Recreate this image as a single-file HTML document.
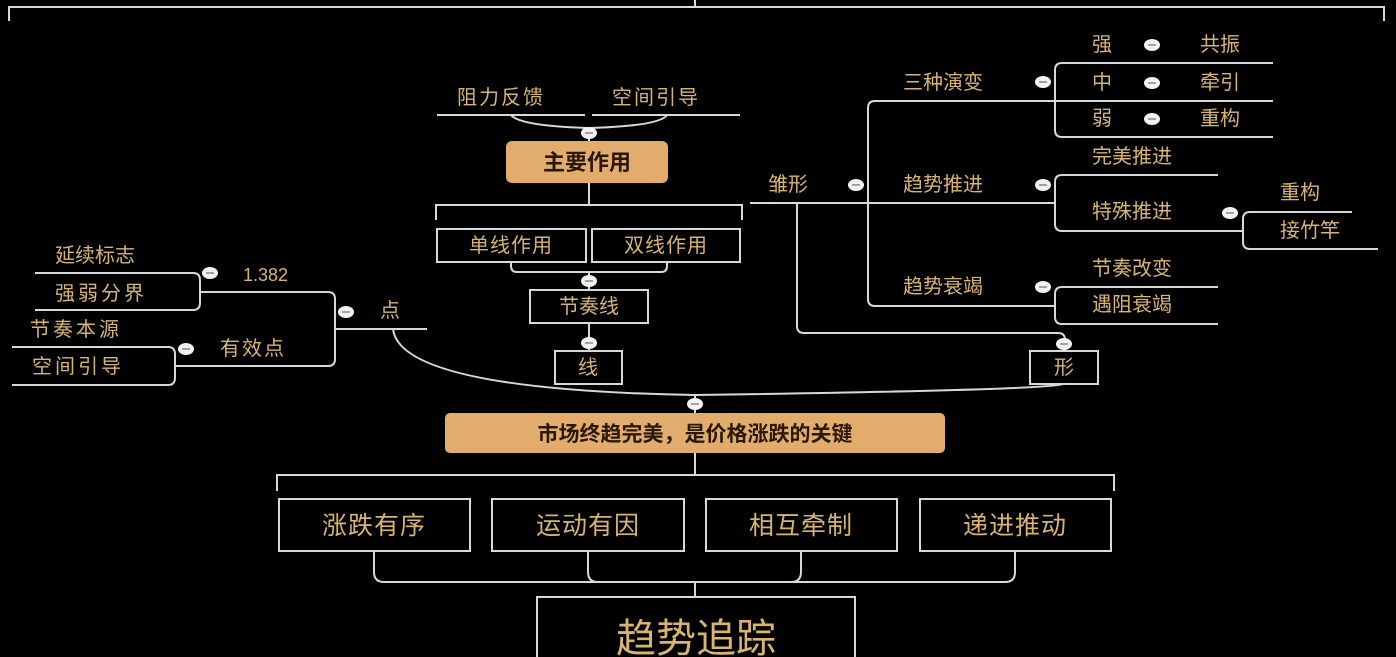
<!DOCTYPE html>
<html><head><meta charset="utf-8"><style>
html,body{margin:0;padding:0;background:#000;width:1396px;height:657px;overflow:hidden}
svg{display:block}
text{font-family:"Liberation Sans","Noto Sans CJK SC",sans-serif;fill:#d8b46f;font-size:20px}
.ln{stroke:#d8d8d8;stroke-width:2;fill:none}
.bx{stroke:#d8d8d8;stroke-width:2;fill:#000}
.dk{fill:#2a1808;font-weight:bold}
.s24{font-size:25px}
</style></head><body>
<svg width="1396" height="657" viewBox="0 0 1396 657">
<defs>
<g id="c"><ellipse cx="0" cy="0" rx="8" ry="6" fill="#f2f2f2"/><line x1="-4" y1="0" x2="4" y2="0" stroke="#888" stroke-width="1.5"/></g>
</defs>
<path class="ln" d="M9 21 V7 H1384 V21 M695 0 V7"/>

<text x="55" y="262">延续标志</text>
<path class="ln" d="M35 273 H193 Q200 273 200 280 V303 Q200 310 193 310 H35"/>
<text x="55" y="300" letter-spacing="3">强弱分界</text>
<use href="#c" x="210" y="273"/>
<text x="243" y="281" style="font-size:18px">1.382</text>
<path class="ln" d="M200 292 H328 Q335 292 335 299 V359 Q335 366 328 366 H175"/>
<path class="ln" d="M335 329 H427"/>
<use href="#c" x="346" y="312"/>
<text x="380" y="317">点</text>
<text x="30" y="336" letter-spacing="3">节奏本源</text>
<path class="ln" d="M12 347 H168 Q175 347 175 354 V378 Q175 385 168 385 H12"/>
<text x="32" y="373" letter-spacing="3">空间引导</text>
<use href="#c" x="186" y="349"/>
<text x="220" y="355" letter-spacing="2">有效点</text>

<path class="ln" d="M393 329 Q400 390 695 395 Q1050 390 1063 384"/>
<path class="ln" d="M695 395 V420"/>
<use href="#c" x="695" y="404"/>

<text x="457" y="104" letter-spacing="2">阻力反馈</text>
<text x="612" y="104" letter-spacing="2">空间引导</text>
<path class="ln" d="M437 115 H585 M592 115 H740"/>
<path class="ln" d="M511 115 Q520 126 589 128 Q660 126 667 115"/>
<path class="ln" d="M589 128 V141"/>
<use href="#c" x="589" y="133"/>
<rect x="506" y="141" width="162" height="42" rx="6" fill="#e2ad6c"/>
<text x="587" y="170" text-anchor="middle" class="dk" style="font-size:22px">主要作用</text>
<path class="ln" d="M589 183 V205 M436 220 V205 H742 V220"/>
<rect class="bx" x="437" y="229" width="149" height="33"/>
<rect class="bx" x="592" y="229" width="148" height="33"/>
<text x="511" y="252" text-anchor="middle" letter-spacing="1">单线作用</text>
<text x="666" y="252" text-anchor="middle" letter-spacing="1">双线作用</text>
<path class="ln" d="M511 262 V266 Q511 272 517 272 H661 Q667 272 667 266 V262 M589 272 V290"/>
<use href="#c" x="589" y="281"/>
<rect class="bx" x="530" y="290" width="118" height="33"/>
<text x="589" y="313" text-anchor="middle">节奏线</text>
<path class="ln" d="M589 323 V351"/>
<use href="#c" x="589" y="343"/>
<rect class="bx" x="555" y="351" width="67" height="33"/>
<text x="588" y="374" text-anchor="middle">线</text>

<text x="768" y="191">雏形</text>
<use href="#c" x="856" y="185"/>
<path class="ln" d="M750 203 H1055"/>
<path class="ln" d="M797 203 V326 Q797 333 804 333 H1058 Q1065 333 1065 340 V351"/>
<use href="#c" x="1064" y="344"/>
<rect class="bx" x="1030" y="351" width="68" height="33"/>
<text x="1064" y="374" text-anchor="middle">形</text>
<path class="ln" d="M1273 101 H875 Q868 101 868 108 V299 Q868 306 875 306 H1055"/>
<text x="903" y="89">三种演变</text>
<use href="#c" x="1043" y="82"/>
<path class="ln" d="M1273 63 H1062 Q1055 63 1055 70 V130 Q1055 137 1062 137 H1273"/>
<text x="1092" y="51">强</text><use href="#c" x="1152" y="45"/><text x="1200" y="51">共振</text>
<text x="1092" y="89">中</text><use href="#c" x="1152" y="83"/><text x="1200" y="89">牵引</text>
<text x="1092" y="125">弱</text><use href="#c" x="1152" y="119"/><text x="1200" y="125">重构</text>
<text x="903" y="191">趋势推进</text>
<use href="#c" x="1043" y="185"/>
<path class="ln" d="M1218 175 H1062 Q1055 175 1055 182 V224 Q1055 231 1062 231 H1243"/>
<text x="1092" y="163">完美推进</text>
<text x="1092" y="218">特殊推进</text>
<use href="#c" x="1230" y="213"/>
<path class="ln" d="M1352 212 H1250 Q1243 212 1243 219 V242 Q1243 249 1250 249 H1378"/>
<text x="1280" y="199">重构</text>
<text x="1280" y="237">接竹竿</text>
<text x="903" y="293">趋势衰竭</text>
<use href="#c" x="1043" y="287"/>
<path class="ln" d="M1218 287 H1062 Q1055 287 1055 294 V317 Q1055 324 1062 324 H1218"/>
<text x="1092" y="275">节奏改变</text>
<text x="1092" y="311">遇阻衰竭</text>

<rect x="445" y="413" width="500" height="40" rx="5" fill="#e2ad6c"/>
<text x="695" y="441" text-anchor="middle" class="dk" style="font-size:21px">市场终趋完美，是价格涨跌的关键</text>
<path class="ln" d="M695 453 V475 M277 491 V475 H1114 V491"/>
<rect class="bx" x="279" y="499" width="191" height="52"/>
<rect class="bx" x="492" y="499" width="192" height="52"/>
<rect class="bx" x="706" y="499" width="191" height="52"/>
<rect class="bx" x="920" y="499" width="191" height="52"/>
<text x="374" y="534" text-anchor="middle" class="s24" letter-spacing="1">涨跌有序</text>
<text x="588" y="534" text-anchor="middle" class="s24" letter-spacing="1">运动有因</text>
<text x="801" y="534" text-anchor="middle" class="s24" letter-spacing="1">相互牵制</text>
<text x="1015" y="534" text-anchor="middle" class="s24" letter-spacing="1">递进推动</text>
<path class="ln" d="M374 551 V572 Q374 582 384 582 H1005 Q1015 582 1015 572 V551 M588 551 V572 Q588 582 598 582 M801 551 V572 Q801 582 791 582 M695 582 V597"/>
<rect class="bx" x="537" y="597" width="318" height="70"/>
<text x="696" y="652" text-anchor="middle" style="font-size:40px">趋势追踪</text>
</svg>
</body></html>
